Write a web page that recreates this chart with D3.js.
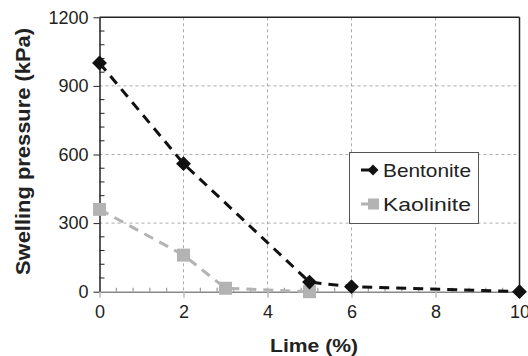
<!DOCTYPE html>
<html><head><meta charset="utf-8">
<script src="https://cdn.jsdelivr.net/npm/d3@7"></script>
<style>html,body{margin:0;padding:0;background:#fff;}svg{display:block;font-family:"Liberation Sans",Arial,Helvetica,sans-serif;}</style>
</head><body>
<script>
const limeBentonite = [0, 2, 5, 6, 10];
const bentonite = [1000, 560, 42, 22, 0];
const limeKaolinite = [0, 2, 3, 5];
const kaolinite = [360, 160, 15, 0];
const xTicks = [0, 2, 4, 6, 8, 10];
const yTicks = [0, 300, 600, 900, 1200];
const seriesNames = ["Bentonite", "Kaolinite"];

const W = 528, H = 356;
const svg = d3.select("body").append("svg").attr("width", W).attr("height", H);
const x = d3.scaleLinear().domain([0, 10]).range([99.5, 519.5]);
const y = d3.scaleLinear().domain([0, 1200]).range([291.7, 17.3]);

// grid
const g = svg.append("g");
g.selectAll("line.vg").data(xTicks.filter(d => d > 0 && d < 10)).enter().append("line")
  .attr("x1", d => x(d)).attr("x2", d => x(d)).attr("y1", y(1200)).attr("y2", y(0))
  .attr("stroke", "#aaa").attr("stroke-width", 1).attr("stroke-dasharray", "3,3");
g.selectAll("line.hg").data(yTicks.filter(d => d > 0 && d < 1200)).enter().append("line")
  .attr("x1", x(0)).attr("x2", x(10)).attr("y1", d => y(d)).attr("y2", d => y(d))
  .attr("stroke", "#aaa").attr("stroke-width", 1).attr("stroke-dasharray", "3,3");

// frame top / right
svg.append("line").attr("x1", x(0)).attr("x2", x(10)).attr("y1", y(1200)).attr("y2", y(1200)).attr("stroke", "#222").attr("stroke-width", 1.5);
svg.append("line").attr("x1", x(10)).attr("x2", x(10)).attr("y1", y(1200)).attr("y2", y(0)).attr("stroke", "#222").attr("stroke-width", 1.5);

// y axis (left) minor ticks inside
const yMinor = d3.range(0, 1201, 60).filter(v => v % 300 !== 0);
svg.selectAll("line.ym").data(yMinor).enter().append("line")
  .attr("x1", x(0)).attr("x2", x(0) + 5).attr("y1", d => y(d)).attr("y2", d => y(d))
  .attr("stroke", "#222").attr("stroke-width", 1);
const yAxis = d3.axisLeft(y).tickValues(yTicks).tickFormat(d3.format("d")).tickSize(6).tickSizeOuter(0).tickPadding(5);
const ya = svg.append("g").attr("transform", `translate(${x(0)},0)`).call(yAxis);
ya.select(".domain").attr("stroke", "#222").attr("stroke-width", 1.5);
ya.selectAll(".tick line").attr("stroke", "#222").attr("stroke-width", 1);
ya.selectAll(".tick text").attr("font-size", 18).attr("fill", "#222").attr("font-family", "Liberation Sans, Arial, sans-serif");

// x axis minor ticks upward
const xMinor = d3.range(0, 10.01, 0.4).map(v => +v.toFixed(2)).filter(v => Math.abs(v / 2 - Math.round(v / 2)) > 1e-6);
svg.selectAll("line.xm").data(xMinor).enter().append("line")
  .attr("x1", d => x(d)).attr("x2", d => x(d)).attr("y1", y(0)).attr("y2", y(0) - 4)
  .attr("stroke", "#888").attr("stroke-width", 1);
const xAxis = d3.axisBottom(x).tickValues(xTicks).tickFormat(d3.format("d")).tickSize(6).tickSizeOuter(0).tickPadding(8);
const xa = svg.append("g").attr("transform", `translate(0,${y(0)})`).call(xAxis);
xa.select(".domain").attr("stroke", "#888").attr("stroke-width", 1.5);
xa.selectAll(".tick line").attr("stroke", "#bbb").attr("stroke-width", 1.5);
xa.selectAll(".tick text").attr("font-size", 18).attr("fill", "#222").attr("font-family", "Liberation Sans, Arial, sans-serif");

// axis titles
svg.append("text").attr("x", 270).attr("y", 351.5).attr("text-anchor", "start")
  .attr("font-size", 18.5).attr("font-weight", "bold").attr("fill", "#222")
  .attr("textLength", 88).attr("lengthAdjust", "spacingAndGlyphs").text("Lime (%)");
svg.append("text").attr("transform", "translate(30,275) rotate(-90)").attr("text-anchor", "start")
  .attr("font-size", 20).attr("font-weight", "bold").attr("fill", "#222")
  .attr("textLength", 247).attr("lengthAdjust", "spacingAndGlyphs").text("Swelling pressure (kPa)");

// series
const line = d3.line().x(d => x(d[0])).y(d => y(d[1]));
const kData = limeKaolinite.map((v, i) => [v, kaolinite[i]]);
const bData = limeBentonite.map((v, i) => [v, bentonite[i]]);
const kCol = "#b3b3b3", bCol = "#111";
svg.append("path").datum(kData).attr("d", line).attr("fill", "none").attr("stroke", kCol)
  .attr("stroke-width", 3).attr("stroke-dasharray", "10,7");
svg.selectAll("rect.k").data(kData).enter().append("rect")
  .attr("x", d => x(d[0]) - 6.5).attr("y", d => y(d[1]) - 6.5).attr("width", 13).attr("height", 13).attr("fill", kCol);
svg.append("path").datum(bData).attr("d", line).attr("fill", "none").attr("stroke", bCol)
  .attr("stroke-width", 3).attr("stroke-dasharray", "10,7");
svg.selectAll("path.b").data(bData).enter().append("path")
  .attr("transform", d => `translate(${x(d[0])},${y(d[1])}) rotate(45)`).attr("d", d3.symbol().type(d3.symbolSquare).size(110)).attr("fill", bCol);

// legend
const lg = svg.append("g");
lg.append("rect").attr("x", 349.5).attr("y", 152.5).attr("width", 129).attr("height", 71)
  .attr("fill", "#fff").attr("stroke", "#555").attr("stroke-width", 1);
const items = [{name: seriesNames[0], col: bCol, yy: 170}, {name: seriesNames[1], col: kCol, yy: 204}];
items.forEach((it, i) => {
  lg.append("line").attr("x1", 361).attr("x2", 374).attr("y1", it.yy).attr("y2", it.yy)
    .attr("stroke", it.col).attr("stroke-width", 3);
  if (i === 0) {
    lg.append("path").attr("transform", `translate(373,${it.yy}) rotate(45)`).attr("d", d3.symbol().type(d3.symbolSquare).size(60)).attr("fill", it.col);
  } else {
    lg.append("rect").attr("x", 368).attr("y", it.yy - 5.5).attr("width", 11).attr("height", 11).attr("fill", it.col);
  }
  lg.append("text").attr("x", 383).attr("y", it.yy + 6.5).attr("font-size", 18.5).attr("fill", "#222")
    .attr("textLength", 88).attr("lengthAdjust", "spacingAndGlyphs").text(it.name);
});
</script>
</body></html>
